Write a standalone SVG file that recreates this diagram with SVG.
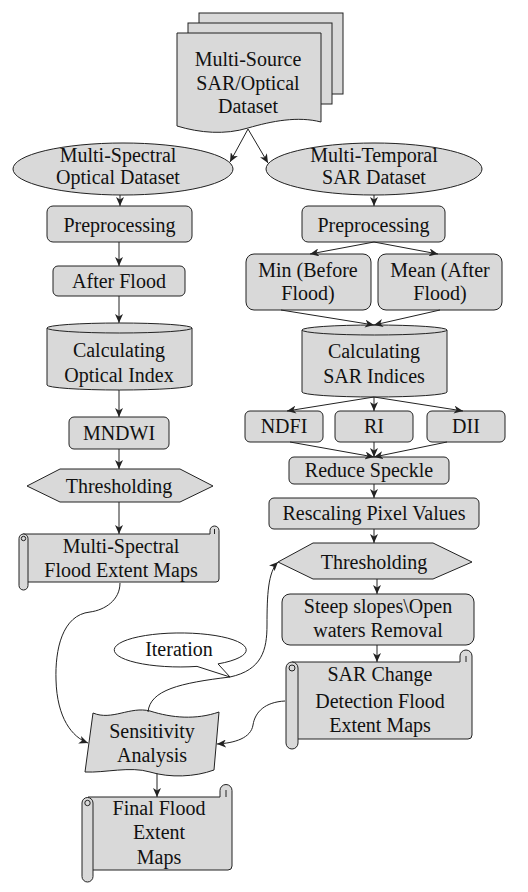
<svg xmlns="http://www.w3.org/2000/svg" width="528" height="892" viewBox="0 0 528 892">
<style>
.s{fill:#d9d9d9;stroke:#222;stroke-width:1}
.w{fill:#fff;stroke:#222;stroke-width:1}
.n{fill:none;stroke:#222;stroke-width:1}
.c path,.c line{fill:none;stroke:#222;stroke-width:1}
</style>
<defs>
<marker id="a" markerUnits="userSpaceOnUse" markerWidth="10" markerHeight="8" refX="9" refY="4" orient="auto">
<path d="M0,0 L9,4 L0,8 L2.5,4 Z" fill="#222"/>
</marker>
</defs>
<rect width="528" height="892" fill="#fff"/>
<g font-family="Liberation Serif" font-size="20" text-anchor="middle" fill="#111">
<g id="multi-source">
<rect class="s" x="199" y="13" width="144" height="81"/>
<rect class="s" x="188" y="23" width="144" height="81"/>
<path class="s" d="M177,33 H321 V122 C298,116 272,121 248,128 C225,135 200,133 177,126 Z"/>
<text x="248" y="66" style="font-family:'Liberation Serif',serif">Multi-Source</text>
<text x="248" y="90" style="font-family:'Liberation Serif',serif">SAR/Optical</text>
<text x="248" y="113" style="font-family:'Liberation Serif',serif">Dataset</text>
</g>
<g id="optical-dataset">
<ellipse class="s" cx="123" cy="169" rx="110" ry="26"/>
<text x="118" y="162" style="font-family:'Liberation Serif',serif">Multi-Spectral</text>
<text x="118" y="184" style="font-family:'Liberation Serif',serif">Optical Dataset</text>
</g>
<g id="sar-dataset">
<ellipse class="s" cx="374" cy="169" rx="108" ry="26"/>
<text x="374" y="162" style="font-family:'Liberation Serif',serif">Multi-Temporal</text>
<text x="374" y="184" style="font-family:'Liberation Serif',serif">SAR Dataset</text>
</g>
<g id="pre-left"><rect class="s" x="47" y="206" width="145" height="36" rx="6"/><text x="119.5" y="232" style="font-family:'Liberation Serif',serif">Preprocessing</text></g>
<g id="pre-right"><rect class="s" x="302" y="206" width="143" height="36" rx="6"/><text x="373.5" y="232" style="font-family:'Liberation Serif',serif">Preprocessing</text></g>
<g id="after-flood"><rect class="s" x="53" y="266" width="132" height="30" rx="5"/><text x="119" y="288" style="font-family:'Liberation Serif',serif">After Flood</text></g>
<g id="min"><rect class="s" x="246" y="254" width="125" height="56" rx="8"/><text x="308" y="277" style="font-family:'Liberation Serif',serif">Min (Before</text><text x="308" y="300" style="font-family:'Liberation Serif',serif">Flood)</text></g>
<g id="mean"><rect class="s" x="378" y="254" width="124" height="56" rx="8"/><text x="440" y="277" style="font-family:'Liberation Serif',serif">Mean (After</text><text x="440" y="300" style="font-family:'Liberation Serif',serif">Flood)</text></g>
<g id="optical-index">
<path class="s" d="M47,328 A72.5,5 0 0 1 192,328 V385 A72.5,5 0 0 1 47,385 Z"/>
<path class="n" d="M47,328 A72.5,5 0 0 0 192,328"/>
<text x="119" y="357" style="font-family:'Liberation Serif',serif">Calculating</text>
<text x="119" y="382" style="font-family:'Liberation Serif',serif">Optical Index</text>
</g>
<g id="sar-indices">
<path class="s" d="M302,330 A72.5,5 0 0 1 447,330 V392 A72.5,5 0 0 1 302,392 Z"/>
<path class="n" d="M302,330 A72.5,5 0 0 0 447,330"/>
<text x="374" y="358" style="font-family:'Liberation Serif',serif">Calculating</text>
<text x="374" y="383" style="font-family:'Liberation Serif',serif">SAR Indices</text>
</g>
<g id="mndwi"><rect class="s" x="69" y="417" width="100" height="32" rx="5"/><text x="119" y="440" style="font-family:'Liberation Serif',serif">MNDWI</text></g>
<g id="ndfi"><rect class="s" x="245" y="411" width="78" height="31" rx="5"/><text x="284" y="433" style="font-family:'Liberation Serif',serif">NDFI</text></g>
<g id="ri"><rect class="s" x="335" y="411" width="78" height="31" rx="5"/><text x="374" y="433" style="font-family:'Liberation Serif',serif">RI</text></g>
<g id="dii"><rect class="s" x="427" y="411" width="78" height="31" rx="5"/><text x="466" y="433" style="font-family:'Liberation Serif',serif">DII</text></g>
<g id="reduce"><rect class="s" x="289" y="457" width="160" height="27" rx="5"/><text x="369" y="477" style="font-family:'Liberation Serif',serif">Reduce Speckle</text></g>
<g id="thr-left"><path class="s" d="M27,486 L60,469 H180 L213,486 L180,502 H60 Z"/><text x="119" y="493" style="font-family:'Liberation Serif',serif">Thresholding</text></g>
<g id="rescale"><rect class="s" x="269" y="498" width="210" height="31" rx="5"/><text x="374" y="520" style="font-family:'Liberation Serif',serif">Rescaling Pixel Values</text></g>
<g id="thr-right"><path class="s" d="M278,562 L313,543 H433 L472,562 L433,579 H313 Z"/><text x="374" y="569" style="font-family:'Liberation Serif',serif">Thresholding</text></g>
<g id="ms-maps">
<path class="s" d="M23,534 H210 V530.5 A4.5,4.5 0 0 1 219,530.5 V579 Q219,582 216,582 H23 Z"/>
<path class="n" d="M214.5,534 V529"/>
<path class="s" d="M19,538.5 A4.5,4.5 0 0 1 28,538.5 V585.5 A4.5,4.5 0 0 1 19,585.5 Z"/>
<circle class="n" cx="23.5" cy="538.5" r="2.2"/>
<text x="121" y="553" style="font-family:'Liberation Serif',serif">Multi-Spectral</text>
<text x="121" y="577" style="font-family:'Liberation Serif',serif">Flood Extent Maps</text>
</g>
<g id="steep"><rect class="s" x="282" y="594" width="192" height="51" rx="8"/><text x="378" y="613" style="font-family:'Liberation Serif',serif">Steep slopes\Open</text><text x="378" y="637" style="font-family:'Liberation Serif',serif">waters Removal</text></g>
<g id="sar-maps">
<path class="s" d="M292,662 H460 V656 A6,6 0 0 1 472,656 V735 Q472,739 468,739 H292 Z"/>
<path class="n" d="M466,662 V656"/>
<path class="s" d="M286,668 A6,6 0 0 1 298,668 V743 A6,6 0 0 1 286,743 Z"/>
<circle class="n" cx="292" cy="668" r="3"/>
<text x="380" y="681" style="font-family:'Liberation Serif',serif">SAR Change</text>
<text x="380" y="708" style="font-family:'Liberation Serif',serif">Detection Flood</text>
<text x="380" y="732" style="font-family:'Liberation Serif',serif">Extent Maps</text>
</g>
<g id="iteration">
<path class="w" d="M197,666.4 A66,17 0 1 1 218,663.9 L230,677 Z"/>
<text x="179" y="656" style="font-family:'Liberation Serif',serif">Iteration</text>
</g>
<g id="sensitivity">
<path class="s" d="M93,713 C112,721 130,706 150,711 C172,718 196,720 219,712 L214,770 C195,777 170,778 150,772 C130,766 105,773 85,772 Z"/>
<text x="152" y="738" style="font-family:'Liberation Serif',serif">Sensitivity</text>
<text x="152" y="762" style="font-family:'Liberation Serif',serif">Analysis</text>
</g>
<g id="final-maps">
<path class="s" d="M88,797 H220 V790.5 A6,6 0 0 1 232,790.5 V866 Q232,870 228,870 H88 Z"/>
<path class="n" d="M226,797 V790"/>
<path class="s" d="M82,803 A5.5,5.5 0 0 1 93,803 V876.5 A5.5,5.5 0 0 1 82,876.5 Z"/>
<circle class="n" cx="87.5" cy="803" r="2.7"/>
<text x="159" y="815" style="font-family:'Liberation Serif',serif">Final Flood</text>
<text x="159" y="839" style="font-family:'Liberation Serif',serif">Extent</text>
<text x="159" y="864" style="font-family:'Liberation Serif',serif">Maps</text>
</g>
</g>
<g id="connectors" class="c">
<line x1="248" y1="129" x2="230" y2="162" marker-end="url(#a)"/>
<line x1="248" y1="129" x2="268" y2="163" marker-end="url(#a)"/>
<line x1="120" y1="195" x2="120" y2="206" marker-end="url(#a)"/>
<line x1="374" y1="195" x2="374" y2="206" marker-end="url(#a)"/>
<line x1="119" y1="242" x2="119" y2="266" marker-end="url(#a)"/>
<line x1="374" y1="242" x2="310" y2="254" marker-end="url(#a)"/>
<line x1="374" y1="242" x2="438" y2="254" marker-end="url(#a)"/>
<line x1="119" y1="296" x2="119" y2="323" marker-end="url(#a)"/>
<line x1="281" y1="310" x2="374" y2="325" marker-end="url(#a)"/>
<line x1="440" y1="310" x2="374" y2="325" marker-end="url(#a)"/>
<line x1="119" y1="390" x2="119" y2="417" marker-end="url(#a)"/>
<line x1="374" y1="397" x2="287" y2="411" marker-end="url(#a)"/>
<line x1="374" y1="397" x2="374" y2="411" marker-end="url(#a)"/>
<line x1="374" y1="397" x2="463" y2="411" marker-end="url(#a)"/>
<line x1="290" y1="442" x2="374" y2="457" marker-end="url(#a)"/>
<line x1="374" y1="442" x2="374" y2="457" marker-end="url(#a)"/>
<line x1="447" y1="442" x2="374" y2="457" marker-end="url(#a)"/>
<line x1="119" y1="449" x2="119" y2="469" marker-end="url(#a)"/>
<line x1="374" y1="484" x2="374" y2="498" marker-end="url(#a)"/>
<line x1="119" y1="502" x2="119" y2="534" marker-end="url(#a)"/>
<line x1="374" y1="529" x2="374" y2="543" marker-end="url(#a)"/>
<line x1="377" y1="579" x2="377" y2="594" marker-end="url(#a)"/>
<line x1="377" y1="645" x2="377" y2="662" marker-end="url(#a)"/>
<line x1="157" y1="773" x2="157" y2="797" marker-end="url(#a)"/>
<path d="M120,583 C120,600 105,610 90,612 C62,615 55,650 56,680 C57,718 72,737 88,743" marker-end="url(#a)"/>
<path d="M148,712 C150,690 180,683 230,677 C262,670 267,650 267,625 C267,595 268,572 278,562" marker-end="url(#a)"/>
<path d="M285,701 C265,702 255,712 253,725 C251,738 235,743 217,744" marker-end="url(#a)"/>
</g>
</svg>
